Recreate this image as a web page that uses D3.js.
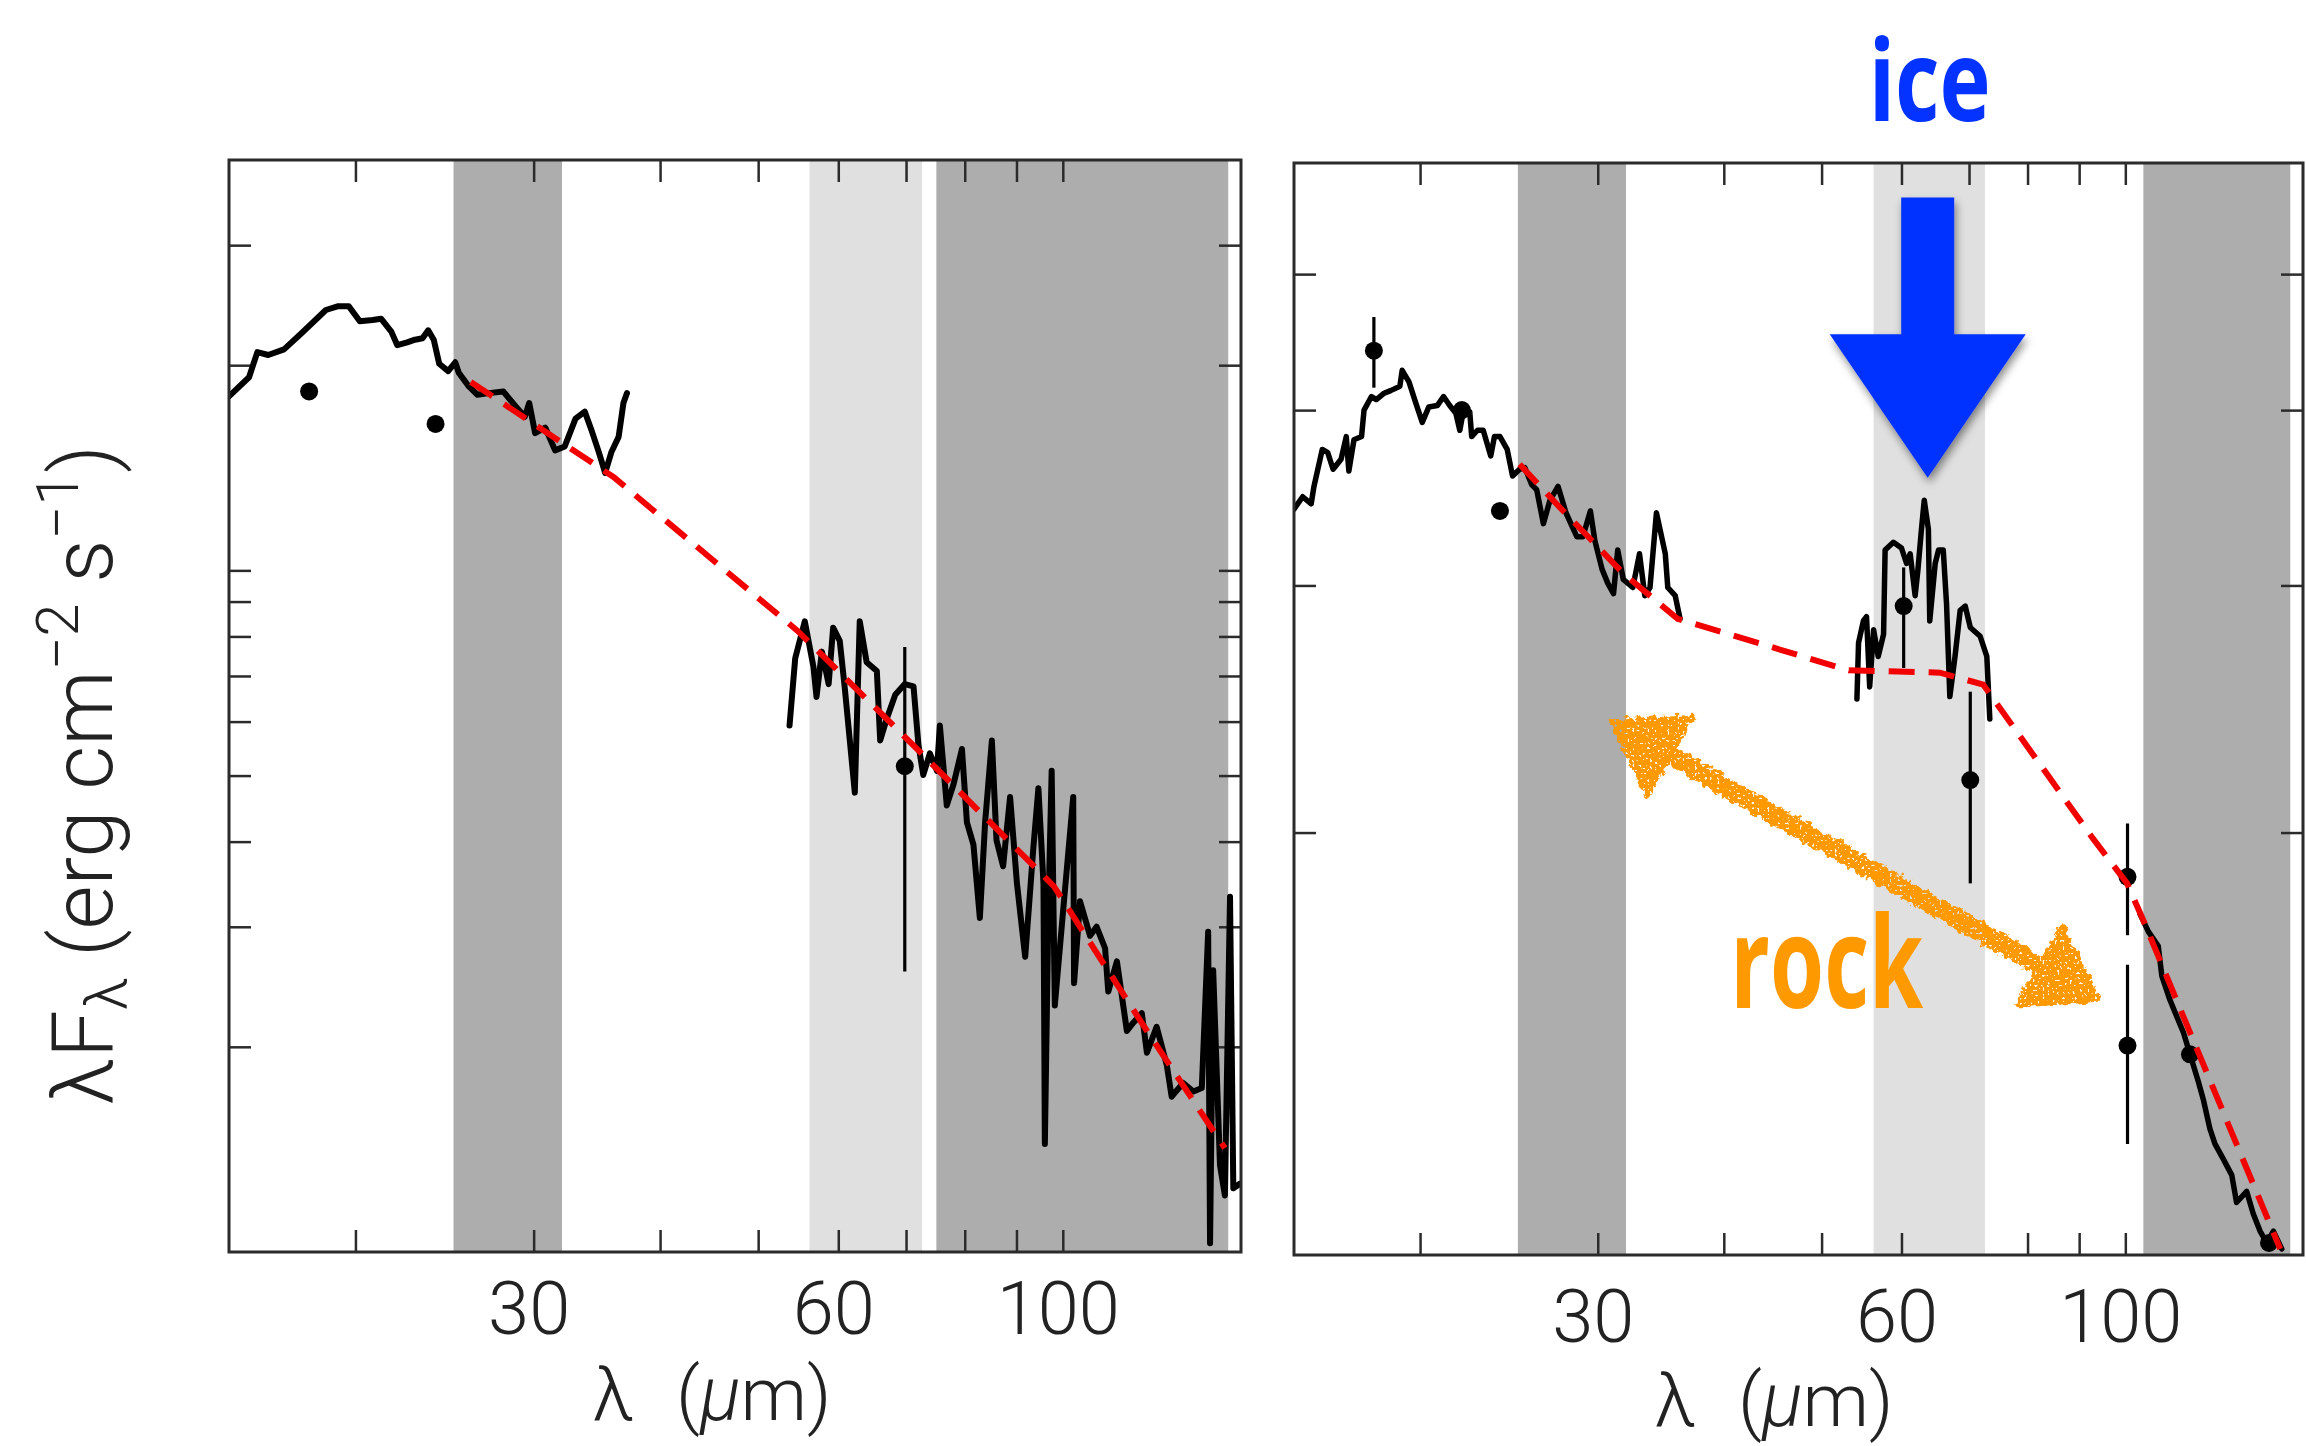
<!DOCTYPE html>
<html>
<head>
<meta charset="utf-8">
<script src="https://cdn.jsdelivr.net/npm/d3@7"></script>
<style>
  html, body { margin: 0; padding: 0; background: #ffffff; }
  svg { display: block; }
</style>
</head>
<body>
<svg id="chart" width="2306" height="1446"></svg>
<script>
// ------------------------------------------------------------------
// DATA (wavelength in micron, lambda*F_lambda in arbitrary log units)
// ------------------------------------------------------------------
const xDomain = [15, 150];
const xTicks = [20, 30, 40, 50, 60, 70, 80, 90, 100];
const xTicksRightBottom = [20, 30, 40, 50, 60, 80, 90, 100];
const xTickLabels = [30, 60, 100];

const leftYDomain = [0.1, 4];
const leftYTicks = [0.2, 0.3, 0.4, 0.5, 0.6, 0.7, 0.8, 0.9, 1, 2, 3];
const rightYDomain = [1, 6];
const rightYTicks = [2, 3, 4, 5];

// shaded wavelength bands [start, end]
const leftDarkBands = [[25.0, 32.0], [75.0, 145.7]];
const leftLightBands = [[56.2, 72.6]];
const rightDarkBands = [[25.0, 32.0], [104.2, 145.7]];
const rightLightBands = [[56.3, 72.6]];

// left panel spectra
const leftSpecShort = [[15.0,1.80],[15.7,1.92],[16.0,2.09],[16.4,2.07],[17.0,2.11],[17.7,2.23],[18.7,2.41],[19.2,2.44],[19.7,2.44],[20.2,2.32],[20.8,2.33],[21.2,2.34],[21.7,2.24],[22.0,2.14],[22.5,2.16],[22.9,2.18],[23.3,2.19],[23.6,2.25],[23.9,2.18],[24.2,2.01],[24.7,1.96],[25.1,2.02],[25.3,1.95],[25.9,1.86],[26.4,1.81],[27.1,1.82],[28.0,1.83],[28.8,1.74],[29.4,1.68],[29.7,1.76],[30.1,1.59],[30.8,1.62],[31.5,1.50],[32.2,1.52],[33.0,1.67],[33.7,1.71],[34.2,1.61],[34.8,1.49],[35.3,1.39],[35.8,1.49],[36.4,1.57],[36.8,1.76],[37.1,1.82]];
const leftSpecLong = [[53.7,0.592],[54.4,0.743],[55.6,0.842],[56.7,0.722],[57.1,0.652],[57.8,0.760],[58.7,0.681],[59.3,0.824],[60.2,0.788],[60.9,0.671],[62.3,0.472],[63.0,0.842],[64.0,0.733],[65.5,0.712],[66.0,0.563],[67.0,0.606],[68.3,0.657],[69.8,0.681],[71.2,0.676],[72.0,0.555],[72.8,0.501],[73.9,0.539],[75.1,0.508],[75.6,0.592],[76.8,0.452],[78.0,0.486],[79.5,0.547],[80.4,0.427],[81.6,0.396],[82.8,0.309],[83.8,0.427],[85.1,0.563],[86.0,0.402],[87.3,0.368],[88.7,0.465],[90.1,0.347],[91.8,0.271],[93.5,0.390],[94.6,0.479],[95.7,0.347],[96.0,0.144],[96.8,0.323],[97.5,0.508],[98.2,0.230],[100.1,0.318],[102.4,0.465],[102.6,0.248],[104.0,0.327],[106.4,0.291],[108.0,0.300],[110.1,0.279],[110.9,0.241],[113.1,0.267],[115.7,0.211],[117.4,0.217],[119.7,0.224],[121.1,0.196],[123.8,0.214],[126.7,0.188],[128.1,0.169],[131.5,0.177],[134.6,0.172],[137.2,0.174],[139.2,0.295],[139.8,0.103],[140.8,0.259],[143.0,0.134],[144.6,0.121],[146.3,0.332],[147.4,0.124],[149.7,0.126]];
const leftModel = [[26.0,1.89],[36.0,1.37],[54.7,0.815],[71.6,0.549],[98.0,0.344],[121.1,0.211],[144.6,0.142]];
const leftPhot = [[18.0,1.83],[24.0,1.64],[69.8,0.516]];
const leftPhotErr = [[69.8,0.258,0.772]];

// right panel spectra
const rightSpecShort = [[15.0,3.40],[15.3,3.47],[15.6,3.43],[15.7,3.53],[16.0,3.75],[16.2,3.73],[16.4,3.63],[16.7,3.69],[16.9,3.83],[17.0,3.62],[17.2,3.81],[17.5,3.83],[17.6,4.00],[17.9,4.09],[18.1,4.07],[18.4,4.11],[18.7,4.13],[19.1,4.16],[19.2,4.27],[19.5,4.19],[19.8,4.05],[20.1,3.92],[20.4,4.02],[20.8,4.03],[21.1,4.09],[21.4,4.03],[21.7,3.98],[21.9,3.87],[22.1,4.01],[22.4,3.99],[22.5,3.83],[22.8,3.87],[23.1,3.87],[23.5,3.71],[23.7,3.83],[24.0,3.83],[24.4,3.75],[24.7,3.59],[25.1,3.63],[25.4,3.64],[25.8,3.54],[26.1,3.51],[26.5,3.32],[26.9,3.45],[27.4,3.53],[27.9,3.38],[28.6,3.25],[29.0,3.25],[29.5,3.39],[29.8,3.23],[30.3,3.08],[30.7,3.01],[31.1,2.96],[31.4,3.18],[31.8,3.03],[32.5,2.99],[33.0,3.16],[33.4,2.95],[33.8,2.99],[34.3,3.38],[35.0,3.16],[35.2,2.99],[35.8,2.95],[36.2,2.84]];
const rightSpecIce = [[54.2,2.49],[54.4,2.73],[55.0,2.83],[55.4,2.85],[55.8,2.54],[56.3,2.79],[56.9,2.67],[57.6,2.77],[57.8,3.18],[58.9,3.22],[60.0,3.19],[60.7,3.11],[61.2,3.16],[61.9,2.95],[62.3,3.08],[62.8,3.29],[63.2,3.45],[63.8,3.29],[64.0,2.83],[64.8,3.11],[65.3,3.18],[66.0,3.18],[66.5,2.91],[67.0,2.50],[67.8,2.67],[68.6,2.88],[69.4,2.90],[70.2,2.80],[71.8,2.76],[72.9,2.67],[73.4,2.41]];
const rightSpecLong = [[103.4,1.75],[105.4,1.70],[107.8,1.66],[108.7,1.58],[110.7,1.52],[112.4,1.48],[114.2,1.44],[115.9,1.39],[118.1,1.33],[119.5,1.29],[121.3,1.23],[122.7,1.20],[125.1,1.17],[127.5,1.14],[128.9,1.09],[131.9,1.11],[133.9,1.07],[136.0,1.04],[138.1,1.02],[140.2,1.04],[142.9,1.01]];
const rightModel = [[25.1,3.66],[27.3,3.43],[31.8,3.06],[36.0,2.84],[53.2,2.61],[65.5,2.60],[72.3,2.55],[77.4,2.38],[92.9,1.98],[100.4,1.84],[103.9,1.74],[142.4,1.01]];
const rightPhot = [[18.0,4.41],[22.0,4.00],[24.0,3.39],[60.3,2.90],[70.2,2.18],[100.5,1.86],[100.5,1.41],[115.9,1.39],[138.8,1.02]];
const rightPhotErr = [[18.0,4.15,4.66],[60.3,2.62,3.09],[70.2,1.84,2.52],[100.5,1.69,2.03],[100.5,1.20,1.61]];

// annotations (right panel data coordinates)
const iceArrowTip = [63.7, 3.58];
const iceArrowHeadBase = 4.53;
const iceArrowTail = 5.67;
const rockArrowEnds = [[30.9, 2.40], [94.2, 1.52]];
const rockLabelAt = [50.6, 1.50];

// ------------------------------------------------------------------
const svg = d3.select("#chart");
const defs = svg.append("defs");

// drop shadow for the blue arrow
const sh = defs.append("filter").attr("id", "shadow")
  .attr("x", "-30%").attr("y", "-20%").attr("width", "160%").attr("height", "150%");
sh.append("feDropShadow").attr("dx", 2).attr("dy", 5).attr("stdDeviation", 4)
  .attr("flood-color", "#000").attr("flood-opacity", 0.45);

// rough, chalky filter for the orange arrow
const rf = defs.append("filter").attr("id", "rough")
  .attr("x", "-10%").attr("y", "-10%").attr("width", "120%").attr("height", "120%");
rf.append("feTurbulence").attr("type", "fractalNoise").attr("baseFrequency", 0.16)
  .attr("numOctaves", 2).attr("seed", 4).attr("result", "noise");
rf.append("feDisplacementMap").attr("in", "SourceGraphic").attr("in2", "noise")
  .attr("scale", 10).attr("xChannelSelector", "R").attr("yChannelSelector", "G").attr("result", "disp");
rf.append("feTurbulence").attr("type", "fractalNoise").attr("baseFrequency", 0.4)
  .attr("numOctaves", 1).attr("seed", 11).attr("result", "n2");
rf.append("feColorMatrix").attr("in", "n2").attr("type", "matrix")
  .attr("values", "0 0 0 0 0  0 0 0 0 0  0 0 0 0 0  -16 0 0 0 11.2").attr("result", "mask");
rf.append("feComposite").attr("in", "disp").attr("in2", "mask").attr("operator", "in");

const DARK = "#adadad", LIGHT = "#e0e0e0", AXIS = "#2b2b2b";
const LABEL_FONT = "Roboto, 'Liberation Sans', sans-serif";
const TICK = 22;

const panels = [
  { id: 0, x0: 229, x1: 1241, y0: 160, y1: 1252, yDomain: leftYDomain, yTicks: leftYTicks,
    xTop: xTicks, xBottom: xTicks, dark: leftDarkBands, light: leftLightBands,
    spectra: [leftSpecShort, leftSpecLong], model: leftModel, phot: leftPhot, err: leftPhotErr,
    specWidth: 6, labelPad: 29, titleX: 712, titleY: 1420 },
  { id: 1, x0: 1294, x1: 2303, y0: 163, y1: 1255, yDomain: rightYDomain, yTicks: rightYTicks,
    xTop: xTicks, xBottom: xTicksRightBottom, dark: rightDarkBands, light: rightLightBands,
    spectra: [rightSpecShort, rightSpecIce, rightSpecLong], model: rightModel, phot: rightPhot, err: rightPhotErr,
    specWidth: 5.5, labelPad: 34, titleX: 1774, titleY: 1426 }
];

const scales = [];

panels.forEach(p => {
  const x = d3.scaleLog().domain(xDomain).range([p.x0, p.x1]);
  const y = d3.scaleLog().domain(p.yDomain).range([p.y1, p.y0]);
  scales.push({ x, y });

  defs.append("clipPath").attr("id", "clip" + p.id).append("rect")
    .attr("x", p.x0).attr("y", p.y0).attr("width", p.x1 - p.x0).attr("height", p.y1 - p.y0);

  const g = svg.append("g");

  // bands
  g.append("g").selectAll("rect").data(p.dark).join("rect")
    .attr("x", d => x(d[0])).attr("width", d => x(d[1]) - x(d[0]))
    .attr("y", p.y0).attr("height", p.y1 - p.y0).attr("fill", DARK);
  g.append("g").selectAll("rect").data(p.light).join("rect")
    .attr("x", d => x(d[0])).attr("width", d => x(d[1]) - x(d[0]))
    .attr("y", p.y0).attr("height", p.y1 - p.y0).attr("fill", LIGHT);

  // axes (ticks pointing inward)
  const styleAxis = sel => {
    sel.select(".domain").remove();
    sel.selectAll(".tick line").attr("stroke", AXIS).attr("stroke-width", 2.5);
  };
  const bottom = g.append("g").attr("transform", `translate(0,${p.y1})`)
    .call(d3.axisBottom(x).tickValues(p.xBottom).tickSize(-TICK).tickPadding(p.labelPad)
      .tickFormat(d => xTickLabels.includes(d) ? String(d) : ""))
    .call(styleAxis);
  bottom.attr("font-size", 74).attr("font-family", LABEL_FONT).attr("font-weight", 300);
  bottom.selectAll(".tick text").attr("fill", "#222").attr("dx", -5);

  g.append("g").attr("transform", `translate(0,${p.y0})`)
    .call(d3.axisTop(x).tickValues(p.xTop).tickSize(-TICK).tickFormat(""))
    .call(styleAxis);
  g.append("g").attr("transform", `translate(${p.x0},0)`)
    .call(d3.axisLeft(y).tickValues(p.yTicks).tickSize(-TICK).tickFormat(""))
    .call(styleAxis);
  g.append("g").attr("transform", `translate(${p.x1},0)`)
    .call(d3.axisRight(y).tickValues(p.yTicks).tickSize(-TICK).tickFormat(""))
    .call(styleAxis);

  const clipped = g.append("g").attr("clip-path", `url(#clip${p.id})`);
  const line = d3.line().x(d => x(d[0])).y(d => y(d[1]));

  // measured spectra
  clipped.selectAll("path.spec").data(p.spectra).join("path")
    .attr("class", "spec")
    .attr("d", line).attr("fill", "none").attr("stroke", "#000")
    .attr("stroke-width", p.specWidth).attr("stroke-linejoin", "round").attr("stroke-linecap", "round");

  // photometry error bars + points
  clipped.selectAll("line.err").data(p.err).join("line")
    .attr("class", "err")
    .attr("x1", d => x(d[0])).attr("x2", d => x(d[0]))
    .attr("y1", d => y(d[1])).attr("y2", d => y(d[2]))
    .attr("stroke", "#000").attr("stroke-width", 3.2);
  clipped.selectAll("circle.pt").data(p.phot).join("circle")
    .attr("class", "pt")
    .attr("cx", d => x(d[0])).attr("cy", d => y(d[1])).attr("r", 9).attr("fill", "#000");

  // model (red dashed)
  clipped.append("path").datum(p.model)
    .attr("d", line).attr("fill", "none").attr("stroke", "#f20000")
    .attr("stroke-width", 6).attr("stroke-dasharray", "26,14");

  // frame
  g.append("rect").attr("x", p.x0).attr("y", p.y0)
    .attr("width", p.x1 - p.x0).attr("height", p.y1 - p.y0)
    .attr("fill", "none").attr("stroke", AXIS).attr("stroke-width", 3);

  // x-axis title: λ (μm)
  const t = svg.append("text")
    .attr("x", p.titleX).attr("y", p.titleY).attr("text-anchor", "middle")
    .attr("font-family", LABEL_FONT).attr("font-weight", 300).attr("font-size", 75).attr("fill", "#222");
  t.append("tspan").text("λ");
  t.append("tspan").attr("dx", 42).text("(");
  t.append("tspan").attr("font-style", "italic").text("μ");
  t.append("tspan").text("m)");
});

// y-axis title
const yt = svg.append("text")
  .attr("transform", "translate(112,775) rotate(-90)")
  .attr("text-anchor", "middle")
  .attr("font-family", LABEL_FONT).attr("font-weight", 300).attr("font-size", 86).attr("fill", "#222")
  .attr("textLength", 660).attr("lengthAdjust", "spacingAndGlyphs");
yt.append("tspan").text("λF");
yt.append("tspan").attr("dy", 14).attr("font-size", 60).text("λ");
yt.append("tspan").attr("dy", -14).text(" (erg cm");
yt.append("tspan").attr("dy", -34).attr("font-size", 60).text("−2");
yt.append("tspan").attr("dy", 34).text(" s");
yt.append("tspan").attr("dy", -34).attr("font-size", 60).text("−1");
yt.append("tspan").attr("dy", 34).text(")");

// ------------------------------------------------------------------
// annotations on the right panel
const R = scales[1];

// ice arrow
const cx = R.x(iceArrowTip[0]);
const yTip = R.y(iceArrowTip[1]);
const yBase = R.y(iceArrowHeadBase);
const yTail = R.y(iceArrowTail);
const sw = 26.5, hw = 98;
svg.append("path")
  .attr("d", `M${cx - sw},${yTail} L${cx + sw},${yTail} L${cx + sw},${yBase} L${cx + hw},${yBase} L${cx},${yTip} L${cx - hw},${yBase} L${cx - sw},${yBase} Z`)
  .attr("fill", "#0433ff").attr("filter", "url(#shadow)");

svg.append("text")
  .attr("x", cx + 2).attr("y", 121).attr("text-anchor", "middle")
  .attr("font-family", "'Open Sans', sans-serif").attr("font-weight", 700).attr("font-size", 113)
  .attr("fill", "#0433ff").attr("textLength", 122).attr("lengthAdjust", "spacingAndGlyphs")
  .text("ice");

// rock double arrow
const p1 = [R.x(rockArrowEnds[0][0]), R.y(rockArrowEnds[0][1])];
const p2 = [R.x(rockArrowEnds[1][0]), R.y(rockArrowEnds[1][1])];
const L = Math.hypot(p2[0] - p1[0], p2[1] - p1[1]);
const d = [(p2[0] - p1[0]) / L, (p2[1] - p1[1]) / L];
const n = [-d[1], d[0]];
const headLen = 69, headHalf = 46, shaftHalf = 7.5;
const b1 = [p1[0] + d[0] * headLen, p1[1] + d[1] * headLen];
const b2 = [p2[0] - d[0] * headLen, p2[1] - d[1] * headLen];
const pt = (b, s) => `${b[0] + n[0] * s},${b[1] + n[1] * s}`;
svg.append("path")
  .attr("d", `M${p1[0]},${p1[1]} L${pt(b1, headHalf)} L${pt(b1, shaftHalf)} L${pt(b2, shaftHalf)} L${pt(b2, headHalf)} L${p2[0]},${p2[1]} L${pt(b2, -headHalf)} L${pt(b2, -shaftHalf)} L${pt(b1, -shaftHalf)} L${pt(b1, -headHalf)} Z`)
  .attr("fill", "#ff9900").attr("stroke", "#ff9900").attr("stroke-width", 4)
  .attr("stroke-linejoin", "round").attr("filter", "url(#rough)");

svg.append("text")
  .attr("x", R.x(rockLabelAt[0])).attr("y", R.y(rockLabelAt[1])).attr("text-anchor", "middle")
  .attr("font-family", "'Open Sans', sans-serif").attr("font-weight", 700).attr("font-size", 128)
  .attr("fill", "#ff9900").attr("textLength", 193).attr("lengthAdjust", "spacingAndGlyphs")
  .text("rock");
</script>
</body>
</html>
